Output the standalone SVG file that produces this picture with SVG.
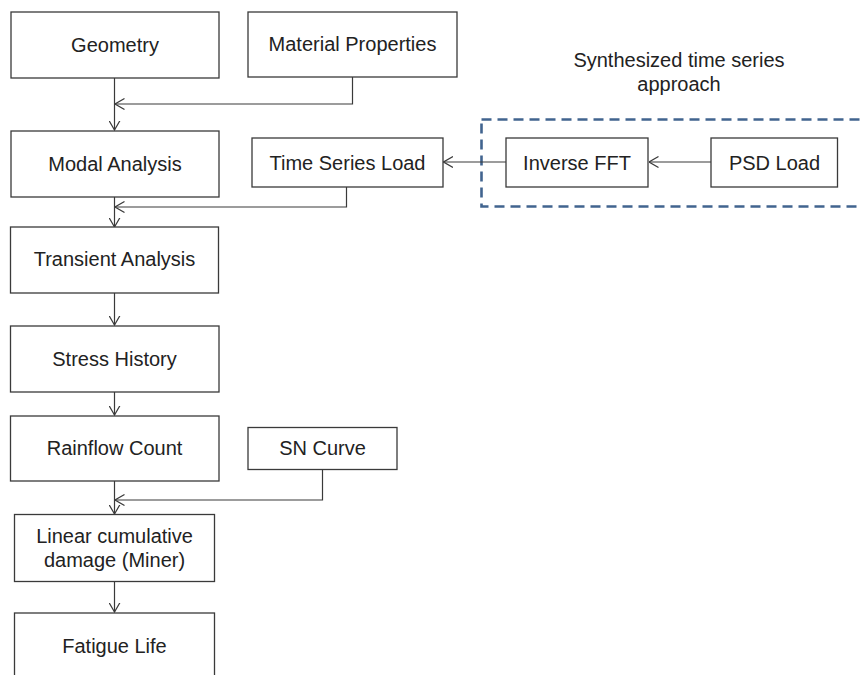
<svg xmlns="http://www.w3.org/2000/svg" width="862" height="675" viewBox="0 0 862 675">
<style>
.box{fill:#fff;stroke:#3a3a3a;stroke-width:1.3}
.t{font-family:"Liberation Sans",Arial,sans-serif;font-size:20px;fill:#222;text-anchor:middle}
.c{fill:none;stroke:#3a3a3a;stroke-width:1.2}
</style>
<defs>
<marker id="arr" viewBox="0 0 10 12" refX="9.5" refY="6" markerWidth="10" markerHeight="12" markerUnits="userSpaceOnUse" orient="auto">
<path d="M0,0.5 L9.5,6 L0,11.5" fill="none" stroke="#3a3a3a" stroke-width="1.2"/>
</marker>
</defs>
<rect width="862" height="675" fill="#fff"/>
<g id="group-synth">
<rect x="481.5" y="119.5" width="400" height="87" fill="none" stroke="#41648f" stroke-width="2.6" stroke-dasharray="10,6"/>
<text class="t" x="679" y="67">Synthesized time series</text>
<text class="t" x="679" y="91">approach</text>
</g>
<g id="connectors">
<path class="c" d="M114.5,78 V130" marker-end="url(#arr)"/>
<path class="c" d="M352.5,77 V104 H115" marker-end="url(#arr)"/>
<path class="c" d="M114.5,197 V227" marker-end="url(#arr)"/>
<path class="c" d="M346.5,187 V207 H115" marker-end="url(#arr)"/>
<path class="c" d="M506,162 H443.5" marker-end="url(#arr)"/>
<path class="c" d="M711,162 H649" marker-end="url(#arr)"/>
<path class="c" d="M114.5,293 V325" marker-end="url(#arr)"/>
<path class="c" d="M114.5,392 V415" marker-end="url(#arr)"/>
<path class="c" d="M114.5,481 V514" marker-end="url(#arr)"/>
<path class="c" d="M322.5,469 V500 H115" marker-end="url(#arr)"/>
<path class="c" d="M114.5,582 V612" marker-end="url(#arr)"/>
</g>
<g id="geometry"><rect class="box" x="11" y="12" width="208" height="66"/><text class="t" x="115" y="52">Geometry</text></g>
<g id="material"><rect class="box" x="248" y="12" width="209" height="65"/><text class="t" x="352.5" y="51">Material Properties</text></g>
<g id="modal"><rect class="box" x="11" y="131" width="208" height="66"/><text class="t" x="115" y="171">Modal Analysis</text></g>
<g id="timeseries"><rect class="box" x="252" y="138" width="191" height="49"/><text class="t" x="347.5" y="170">Time Series Load</text></g>
<g id="ifft"><rect class="box" x="506" y="138" width="142" height="49"/><text class="t" x="577" y="170">Inverse FFT</text></g>
<g id="psd"><rect class="box" x="711" y="138" width="126.5" height="49"/><text class="t" x="774.5" y="170">PSD Load</text></g>
<g id="transient"><rect class="box" x="10.5" y="227" width="208" height="66"/><text class="t" x="114.5" y="266">Transient Analysis</text></g>
<g id="stress"><rect class="box" x="10.5" y="326" width="208.5" height="66"/><text class="t" x="114.5" y="366">Stress History</text></g>
<g id="rainflow"><rect class="box" x="10.5" y="416" width="208.5" height="65"/><text class="t" x="114.5" y="455">Rainflow Count</text></g>
<g id="sncurve"><rect class="box" x="248" y="427.5" width="149" height="42"/><text class="t" x="322.5" y="455">SN Curve</text></g>
<g id="miner"><rect class="box" x="14.5" y="514.5" width="200" height="67"/><text class="t" x="114.5" y="543">Linear cumulative</text><text class="t" x="114.5" y="567">damage (Miner)</text></g>
<g id="fatigue"><rect class="box" x="14.5" y="613" width="200" height="80"/><text class="t" x="114.5" y="653">Fatigue Life</text></g>
</svg>
